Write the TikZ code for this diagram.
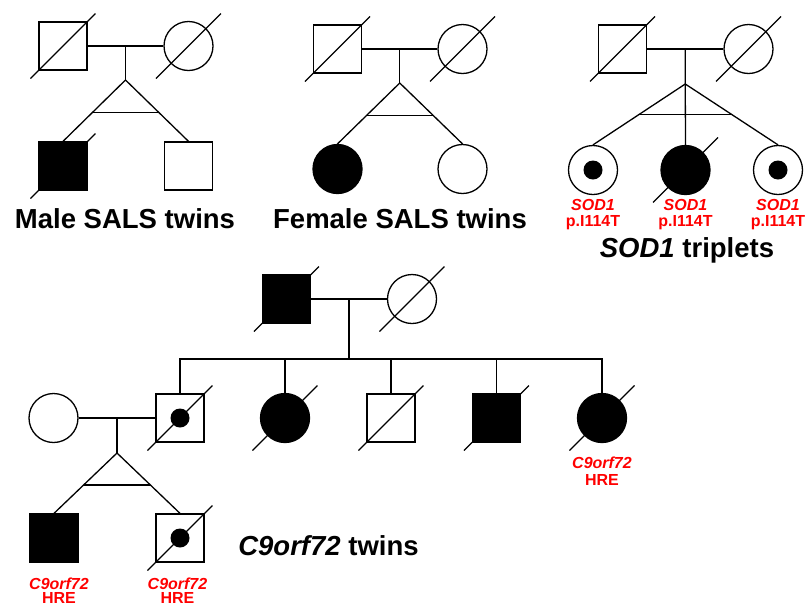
\documentclass[tikz,border=0pt]{standalone}
\usepackage{fontspec}
\setmainfont{Liberation Sans}
\usetikzlibrary{calc}
\definecolor{lblred}{RGB}{255,0,0}
\tikzset{
  ln/.style={line width=1.3pt},
  male/.style={draw, line width=1.3pt, rectangle, minimum size=48pt, inner sep=0pt, fill=white},
  female/.style={draw, line width=1.3pt, circle, minimum size=49pt, inner sep=0pt, fill=white},
  aff/.style={fill=black},
  cdot/.style={circle, fill=black, minimum size=19pt, inner sep=0pt},
  big/.style={anchor=base, inner sep=0pt, font=\fontsize{27.5}{30}\selectfont\bfseries},
  lbl/.style={anchor=base, inner sep=0pt, text=lblred, font=\fontsize{16}{17}\selectfont\bfseries},
}
\newcommand\dsl[1]{\draw[ln] ([shift={(-32.5,32.5)}]#1.center) -- ([shift={(32.5,-32.5)}]#1.center);}
\begin{document}
\begin{tikzpicture}[x=1pt,y=-1pt]
\useasboundingbox (0,0) rectangle (810,606);
% ---------- Male SALS twins ----------
\node[male] (F1) at (63,46) {};
\node[female] (M1) at (188.5,46) {};
\dsl{F1}\dsl{M1}
\draw[ln] (F1) -- (M1);
\coordinate (m1) at ($(F1.east)!0.5!(M1.west)$);
\coordinate (a1) at ($(m1)+(0,34)$);
\node[male,aff] (C1a) at (63,166) {};
\node[male] (C1b) at (188.5,166) {};
\dsl{C1a}
\draw[ln] (m1) -- (a1);
\draw[ln] (C1a.north) -- (a1) -- (C1b.north);
\draw[ln] ($(a1)!0.53!(C1a.north)$) -- ($(a1)!0.53!(C1b.north)$);
\node[big] (t1) at (125,228) {Male SALS twins};
% ---------- Female SALS twins ----------
\node[male] (F2) at (337.5,49) {};
\node[female] (M2) at (462.5,49) {};
\dsl{F2}\dsl{M2}
\draw[ln] (F2) -- (M2);
\coordinate (m2) at ($(F2.east)!0.5!(M2.west)$);
\coordinate (a2) at ($(m2)+(0,34)$);
\node[female,aff] (C2a) at (337.5,169) {};
\node[female] (C2b) at (462.5,169) {};
\draw[ln] (m2) -- (a2);
\draw[ln] (C2a.north) -- (a2) -- (C2b.north);
\draw[ln] ($(a2)!0.53!(C2a.north)$) -- ($(a2)!0.53!(C2b.north)$);
\node[big] (t2) at (400,228) {Female SALS twins};
% ---------- SOD1 triplets ----------
\node[male] (F3) at (622.5,49) {};
\node[female] (M3) at (748.5,49) {};
\dsl{F3}\dsl{M3}
\draw[ln] (F3) -- (M3);
\coordinate (m3) at ($(F3.east)!0.5!(M3.west)$);
\coordinate (a3) at ($(m3)+(0,35)$);
\node[female] (T1) at (593,170) {};
\node[cdot] (T1d) at (T1.center) {};
\node[female,aff] (T2) at (685.5,170) {};
\node[female] (T3) at (778,170) {};
\node[cdot] (T3d) at (T3.center) {};
\dsl{T2}
\draw[ln] (m3) -- (a3) -- (T2.north);
\draw[ln] (T1.north) -- (a3) -- (T3.north);
\draw[ln] ($(a3)!0.5!(T1.north)$) -- ($(a3)!0.5!(T3.north)$);
\foreach \n in {T1,T2,T3}{
  \node[lbl] (\n la) at ($(\n.center)+(0,40)$) {\itshape SOD1};
  \node[lbl] (\n lb) at ($(\n.center)+(0,56)$) {p.I114T};
}
\node[big] (t3) at (687,257) {\itshape SOD1\upshape\ triplets};
% ---------- C9orf72 family ----------
\node[male,aff] (GF) at (286.5,299) {};
\node[female] (GM) at (412,299) {};
\dsl{GF}\dsl{GM}
\draw[ln] (GF) -- (GM);
\coordinate (m4) at ($(GF.east)!0.5!(GM.west)$);
\coordinate (s4) at ($(m4)+(0,60)$);
\node[male] (K1) at (180,418) {};
\node[cdot] (K1d) at (K1.center) {};
\node[female,aff] (K2) at (285,418) {};
\node[male] (K3) at (391,418) {};
\node[male,aff] (K4) at (496.5,418) {};
\node[female,aff] (K5) at (602,418) {};
\foreach \n in {K1,K2,K3,K4,K5}{\dsl{\n}}
\draw[ln] (m4) -- (s4);
\draw[ln] (K1.north) -- (K1.north |- s4) -- (K5.north |- s4) -- (K5.north);
\foreach \n in {K2,K3,K4}{\draw[ln] (\n.north) -- (\n.north |- s4);}
\node[lbl] (K5la) at (602,468) {\itshape C9orf72};
\node[lbl] (K5lb) at (602,485) {HRE};
% spouse and twins
\node[female] (S) at (53.5,418) {};
\draw[ln] (S) -- (K1);
\coordinate (m5) at ($(S.east)!0.5!(K1.west)$);
\coordinate (a5) at ($(m5)+(0,35)$);
\node[male,aff] (G1) at (54,538) {};
\node[male] (G2) at (180,538) {};
\node[cdot] (G2d) at (G2.center) {};
\dsl{G2}
\draw[ln] (m5) -- (a5);
\draw[ln] (G1.north) -- (a5) -- (G2.north);
\draw[ln] ($(a5)!0.53!(G1.north)$) -- ($(a5)!0.53!(G2.north)$);
\node[lbl] (G1la) at (59,589) {\itshape C9orf72};
\node[lbl] (G1lb) at (59,603.5) {HRE};
\node[lbl] (G2la) at (177.5,589) {\itshape C9orf72};
\node[lbl] (G2lb) at (177.5,603.5) {HRE};
\node[big] (t4) at (328.5,555) {\itshape C9orf72\upshape\ twins};
\end{tikzpicture}
\end{document}
